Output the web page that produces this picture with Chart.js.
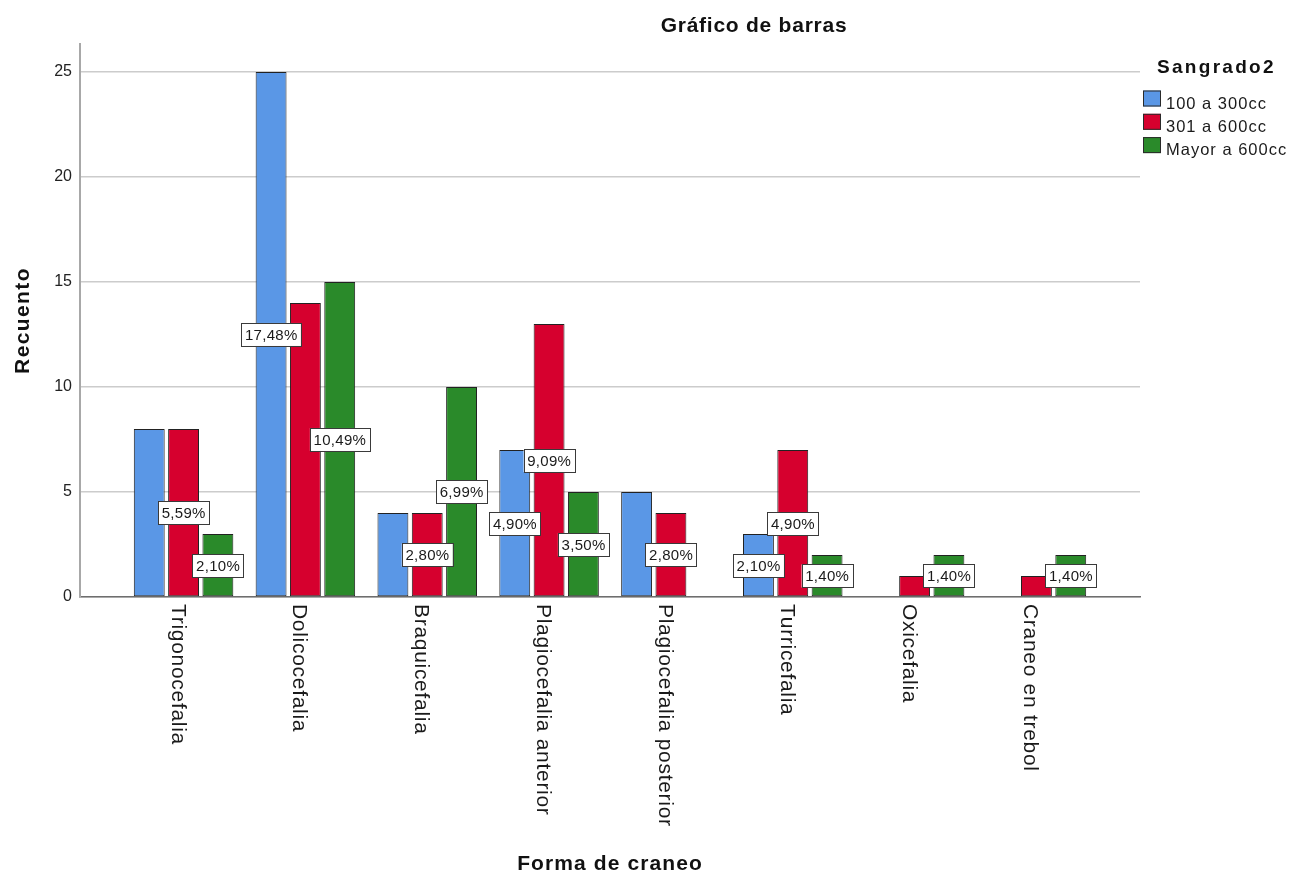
<!DOCTYPE html>
<html lang="es">
<head>
<meta charset="utf-8">
<title>Gráfico de barras</title>
<script src="https://cdn.jsdelivr.net/npm/chart.js@4.4.1/dist/chart.umd.min.js"></script>
<style>
  html, body { margin: 0; padding: 0; background: #ffffff; }
  #wrap { width: 1292px; height: 873px; position: relative; }
</style>
</head>
<body>
<div id="wrap"><canvas id="grafico" width="1292" height="873"></canvas></div>
<script>
// Forma de craneo por categoría de sangrado (recuentos)
const categories = ['Trigonocefalia', 'Dolicocefalia', 'Braquicefalia', 'Plagiocefalia anterior',
                    'Plagiocefalia posterior', 'Turricefalia', 'Oxicefalia', 'Craneo en trebol'];
const seriesNames = ['100 a 300cc', '301 a 600cc', 'Mayor a 600cc'];
const sangrado100a300 = [8, 25, 4, 7, 5, 3, 0, 0];
const sangrado301a600 = [8, 14, 4, 13, 4, 7, 1, 1];
const sangradoMayor600 = [3, 15, 10, 5, 0, 2, 2, 2];
const yTicks = [0, 5, 10, 15, 20, 25];

const seriesValues = [sangrado100a300, sangrado301a600, sangradoMayor600];
const seriesColors = ['#5A97E6', '#D6002E', '#2A8A2A'];
const total = seriesValues.flat().reduce((a, b) => a + b, 0);

const FONT = '"Liberation Sans", Arial, sans-serif';

function withSpacing(ctx, px, fn) {
  const had = 'letterSpacing' in ctx;
  const prev = had ? ctx.letterSpacing : null;
  if (had) ctx.letterSpacing = px + 'px';
  fn();
  if (had) ctx.letterSpacing = prev;
}

// Porcentajes sobre el total, centrados en cada barra; se omiten los que se solapan
const percentLabels = {
  id: 'percentLabels',
  afterDatasetsDraw(chart) {
    const ctx = chart.ctx;
    const yScale = chart.scales.y;
    const placed = [];
    ctx.save();
    ctx.font = '15px ' + FONT;
    for (let d = chart.data.datasets.length - 1; d >= 0; d--) {
      const meta = chart.getDatasetMeta(d);
      const values = seriesValues[d];
      meta.data.forEach((bar, i) => {
        const v = values[i];
        if (!v) return;
        const txt = (v / total * 100).toFixed(2).replace('.', ',') + '%';
        let tw;
        withSpacing(ctx, 0.3, () => { tw = ctx.measureText(txt).width; });
        const w = tw + 7, h = 23;
        const cx = bar.x, cy = yScale.getPixelForValue(v / 2);
        const box = { l: cx - w / 2, r: cx + w / 2, t: cy - h / 2, b: cy + h / 2 };
        if (placed.some(p => box.l < p.r && box.r > p.l && box.t < p.b && box.b > p.t)) return;
        placed.push(box);
        ctx.fillStyle = '#ffffff';
        ctx.fillRect(box.l, box.t, w, h);
        ctx.strokeStyle = '#3a3a3a';
        ctx.lineWidth = 1;
        ctx.strokeRect(Math.round(box.l) + 0.5, Math.round(box.t) + 0.5, Math.round(w), Math.round(h));
        ctx.fillStyle = '#1a1a1a';
        ctx.textAlign = 'center';
        ctx.textBaseline = 'middle';
        withSpacing(ctx, 0.3, () => { ctx.fillText(txt, cx + 0.15, cy + 1); });
      });
    }
    ctx.restore();
  }
};

// Título, títulos de ejes, etiquetas de categoría giradas y leyenda
const decorations = {
  id: 'decorations',
  afterDraw(chart) {
    const ctx = chart.ctx;
    const area = chart.chartArea;
    const xScale = chart.scales.x;
    ctx.save();
    ctx.fillStyle = '#111111';

    // título
    ctx.font = 'bold 21px ' + FONT;
    ctx.textAlign = 'center';
    ctx.textBaseline = 'alphabetic';
    withSpacing(ctx, 0.75, () => ctx.fillText('Gráfico de barras', 754, 32));

    // título eje X
    withSpacing(ctx, 1.1, () => ctx.fillText('Forma de craneo', (area.left + area.right) / 2, 870));

    // título eje Y
    ctx.save();
    ctx.translate(29, (area.top + area.bottom) / 2);
    ctx.rotate(-Math.PI / 2);
    withSpacing(ctx, 1.4, () => ctx.fillText('Recuento', 0, 0));
    ctx.restore();

    // etiquetas de categoría (giradas en sentido horario)
    ctx.font = '21px ' + FONT;
    ctx.fillStyle = '#1a1a1a';
    ctx.textAlign = 'left';
    categories.forEach((c, i) => {
      const x = xScale.getPixelForValue(i);
      ctx.save();
      ctx.translate(x, area.bottom + 7);
      ctx.rotate(Math.PI / 2);
      withSpacing(ctx, 0.7, () => ctx.fillText(c, 0, 12));
      ctx.restore();
    });

    // leyenda
    ctx.fillStyle = '#111111';
    ctx.font = 'bold 19px ' + FONT;
    withSpacing(ctx, 2.3, () => ctx.fillText('Sangrado2', 1157, 73));
    ctx.font = '16.5px ' + FONT;
    seriesNames.forEach((name, i) => {
      const base = 108.5 + i * 23.3;
      ctx.fillStyle = seriesColors[i];
      ctx.fillRect(1143, base - 18, 18, 16);
      ctx.strokeStyle = '#2a2a2a';
      ctx.lineWidth = 1;
      ctx.strokeRect(1143.5, base - 17.5, 17, 15);
      ctx.fillStyle = '#1a1a1a';
      withSpacing(ctx, 1, () => ctx.fillText(name, 1166, base));
    });
    ctx.restore();
  }
};

const datasets = seriesNames.map((name, d) => ({
  label: name,
  data: seriesValues[d].map((v, i) => ({ x: i, y: v })),
  backgroundColor: seriesColors[d],
  borderColor: '#222222',
  borderWidth: c => (c.raw && c.raw.y ? 1 : 0),
  borderSkipped: false,
  categoryPercentage: 0.845,
  barPercentage: 0.9
}));

new Chart(document.getElementById('grafico'), {
  type: 'bar',
  data: { datasets },
  plugins: [percentLabels, decorations],
  options: {
    responsive: false,
    animation: false,
    layout: { padding: { top: 44, right: 152, left: 0, bottom: 0 } },
    plugins: {
      legend: { display: false },
      title: { display: false },
      tooltip: { enabled: false }
    },
    scales: {
      x: {
        type: 'linear',
        offset: false,
        min: -0.85,
        max: 7.85,
        afterFit: s => { s.height = 276; },
        afterBuildTicks: s => { s.ticks = categories.map((_, i) => ({ value: i })); },
        ticks: { display: false },
        grid: { display: false },
        border: { display: true, color: '#6e6e6e', width: 1.5 }
      },
      y: {
        min: 0,
        max: 26.33,
        afterFit: s => { s.width = 80; },
        afterBuildTicks: s => { s.ticks = yTicks.map(v => ({ value: v })); },
        ticks: {
          padding: 8,
          color: '#222222',
          font: { family: FONT, size: 16 }
        },
        grid: { color: '#cccccc', lineWidth: 1.5, drawTicks: false },
        border: { display: true, color: '#a8a8a8', width: 2 }
      }
    }
  }
});
</script>
</body>
</html>
